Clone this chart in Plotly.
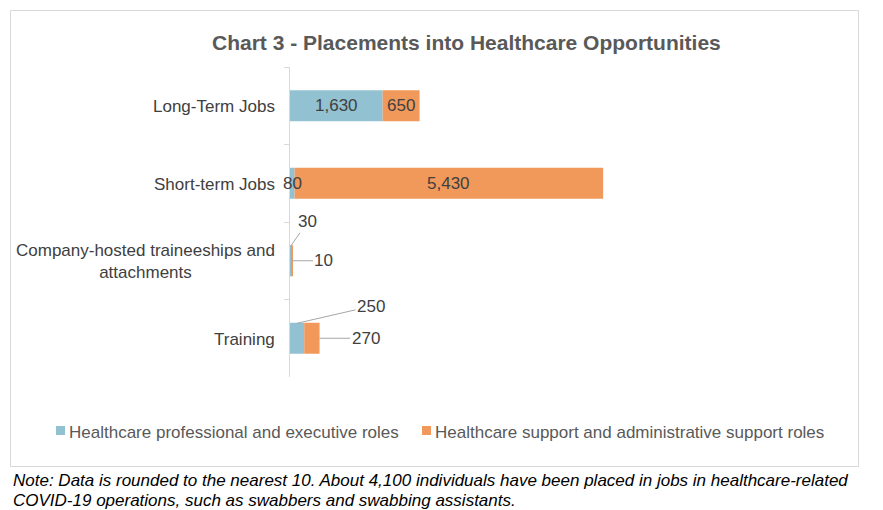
import plotly.graph_objects as go

categories = ["Long-Term Jobs", "Short-term Jobs",
              "Company-hosted traineeships and<br>attachments", "Training"]
professional = [1630, 80, 30, 250]
support = [650, 5430, 10, 270]
series_names = ["Healthcare professional and executive roles",
                "Healthcare support and administrative support roles"]
title_text = "Chart 3 - Placements into Healthcare Opportunities"
note_lines = ["Note: Data is rounded to the nearest 10. About 4,100 individuals have been placed in jobs in healthcare-related",
              "COVID-19 operations, such as swabbers and swabbing assistants."]

W, H = 883, 510
L, R, T, B = 290, 631, 67, 377
BLUE = "#92C1D1"
ORANGE = "#F1995A"
COLORS = [BLUE, ORANGE]
TXT = "#404040"
FONT = "Liberation Sans, Arial, sans-serif"
FS = 17


def px_x(p):
    return p / W


def px_y(p):
    return (H - p) / H


fig = go.Figure()
fig.add_trace(go.Bar(y=categories, x=professional, orientation="h", name=series_names[0],
                     marker=dict(color=BLUE, line=dict(width=0)), width=0.4, showlegend=False))
fig.add_trace(go.Bar(y=categories, x=support, base=professional, orientation="h", name=series_names[1],
                     marker=dict(color=ORANGE, line=dict(width=0)), width=0.4, showlegend=False))

ann = []
shapes = []
# category labels
for c in categories:
    ann.append(dict(xref="paper", yref="y", x=px_x(L), y=c, xanchor="right", yanchor="middle",
                    xshift=-13, yshift=-1, text=c, showarrow=False, align="center",
                    font=dict(family=FONT, size=FS, color=TXT)))

lab_font = dict(family=FONT, size=FS, color=TXT)
for i in (0, 1):
    c = categories[i]
    ann.append(dict(x=professional[i] / 2, y=c, text=f"{professional[i]:,}", showarrow=False,
                    font=lab_font))
    ann.append(dict(x=professional[i] + support[i] / 2, y=c, text=f"{support[i]:,}", showarrow=False,
                    font=lab_font))
LC = "#A6A6A6"
c = categories[2]
ann.append(dict(x=professional[2] / 2, y=c, yshift=15, text=f"{professional[2]:,}", showarrow=True,
                arrowhead=0, arrowwidth=1, arrowcolor=LC, ax=17, ay=-24, font=lab_font))
ann.append(dict(x=professional[2] + support[2] / 2, y=c, text=f"{support[2]:,}", showarrow=True,
                arrowhead=0, arrowwidth=1, arrowcolor=LC, ax=32, ay=0, font=lab_font))
c = categories[3]
ann.append(dict(x=professional[3] / 2, y=c, yshift=15, text=f"{professional[3]:,}", showarrow=True,
                arrowhead=0, arrowwidth=1, arrowcolor=LC, ax=74, ay=-17, font=lab_font))
ann.append(dict(x=professional[3] + support[3], y=c, text=f"{support[3]:,}", showarrow=True,
                arrowhead=0, arrowwidth=1, arrowcolor=LC, ax=46, ay=0, font=lab_font))

ann.append(dict(xref="paper", yref="paper", x=px_x(466), y=px_y(42), xanchor="center", yanchor="middle",
                text=f"<b>{title_text}</b>", showarrow=False,
                font=dict(family=FONT, size=21, color="#595959")))
for k, line in enumerate(note_lines):
    ann.append(dict(xref="paper", yref="paper", x=px_x(11), y=px_y(480 + 20 * k), xanchor="left",
                    yanchor="middle", text=f"<i>{line}</i>", showarrow=False,
                    font=dict(family=FONT, size=FS, color="#000000")))

# legend (swatch + label)
leg_sw = [56, 422]
for name, col, sx in zip(series_names, COLORS, leg_sw):
    shapes.append(dict(type="rect", xref="paper", yref="paper", x0=px_x(sx), x1=px_x(sx + 9),
                       y0=px_y(435), y1=px_y(426), fillcolor=col, line=dict(width=0)))
    ann.append(dict(xref="paper", yref="paper", x=px_x(sx + 11), y=px_y(432), xanchor="left",
                    yanchor="middle", text=name, showarrow=False,
                    font=dict(family=FONT, size=FS, color="#595959")))

shapes.append(dict(type="rect", xref="paper", yref="paper", x0=px_x(10.5), x1=px_x(858.5),
                   y0=px_y(466.5), y1=px_y(10.5), line=dict(color="#D9D9D9", width=1), layer="below"))

fig.update_layout(
    width=W, height=H,
    margin=dict(l=0, r=0, t=0, b=0, pad=0),
    paper_bgcolor="white", plot_bgcolor="white",
    barmode="overlay",
    showlegend=False,
    xaxis=dict(domain=[px_x(L), px_x(R)], range=[0, 6000], visible=False, fixedrange=True),
    yaxis=dict(domain=[px_y(B), px_y(T)], categoryorder="array", categoryarray=categories,
               range=[len(categories) - 0.5, -0.5], autorange=False,
               showticklabels=False, showline=True, linecolor="#D9D9D9", linewidth=1,
               ticks="outside", ticklen=5, tickcolor="#D9D9D9", tickson="boundaries",
               showgrid=False, zeroline=False, fixedrange=True),
    annotations=ann,
    shapes=shapes,
)

fig.write_html("out.html", config={"displayModeBar": False},
               post_script="document.body.style.margin='0';document.body.style.overflow='hidden';")
